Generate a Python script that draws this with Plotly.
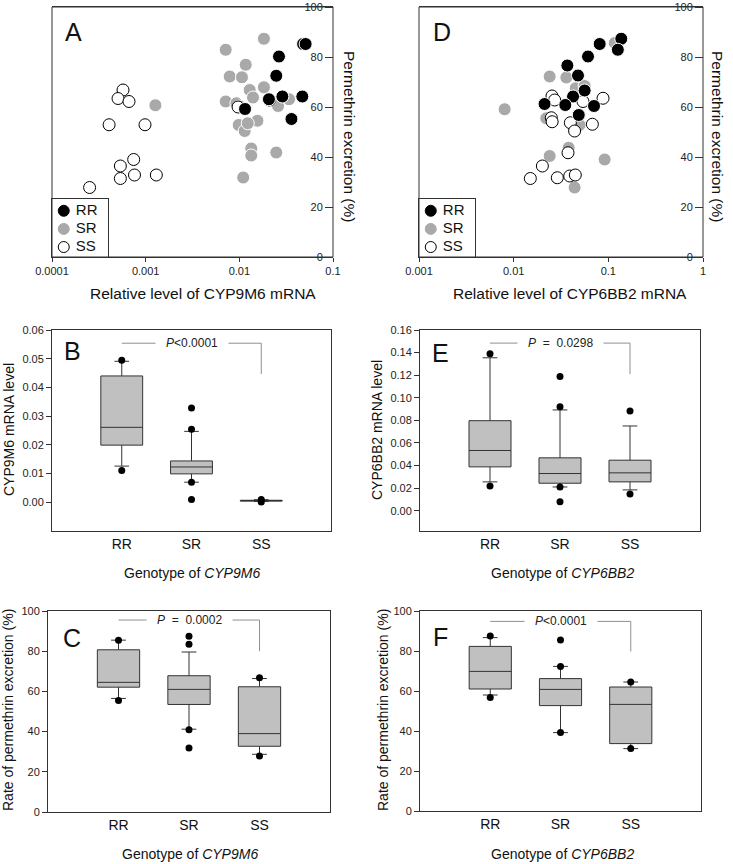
import plotly.graph_objects as go

FONT = "Liberation Sans, Arial, sans-serif"
W, H = 733, 864

genotypes = ["RR", "SR", "SS"]

# ---- Panel A: CYP9M6 mRNA vs permethrin excretion ----
a_rr_x = [0.048, 0.051, 0.0265, 0.0248, 0.0207, 0.0288, 0.047, 0.0115, 0.036]
a_rr_y = [85.2, 85.2, 80.2, 72.5, 63.1, 64.2, 64.2, 59.2, 55.2]
a_sr_x = [0.0183, 0.00715, 0.0117, 0.00789, 0.01067, 0.0129, 0.0183, 0.014, 0.00715, 0.0093,
          0.0101, 0.0259, 0.0339, 0.00984, 0.0156, 0.0114, 0.0123, 0.0134, 0.0134, 0.0248,
          0.011, 0.00127]
a_sr_y = [87.3, 82.9, 76.9, 72.2, 71.9, 66.8, 67.9, 63.8, 62.2, 61.5,
          60.2, 60.4, 63.1, 52.8, 54.5, 50.4, 53.5, 43.4, 40.6, 41.8,
          31.8, 60.7]
a_ss_x = [0.000573, 0.000507, 0.000664, 0.000407, 0.000984, 0.000745, 0.000537, 0.000537,
          0.00076, 0.0013, 0.000252, 0.0209, 0.0097]
a_ss_y = [66.8, 63.4, 62.2, 52.9, 52.9, 39.0, 36.4, 31.4, 32.8, 32.8, 27.8, 62.8, 60.0]

# ---- Panel D: CYP6BB2 mRNA vs permethrin excretion ----
d_rr_x = [0.137, 0.126, 0.081, 0.061, 0.0369, 0.0478, 0.0562, 0.0424, 0.0212, 0.0351, 0.0706, 0.0487]
d_rr_y = [87.3, 82.9, 85.2, 80.2, 76.6, 72.6, 66.6, 64.2, 61.2, 60.8, 60.4, 56.8]
d_sr_x = [0.00803, 0.024, 0.036, 0.117, 0.0452, 0.0562, 0.0221, 0.0497, 0.024, 0.0381, 0.0914, 0.044]
d_sr_y = [59.1, 72.2, 71.8, 85.6, 67.5, 68.4, 55.5, 52.8, 40.4, 43.7, 39.0, 27.8]
d_ss_x = [0.0254, 0.0271, 0.025, 0.0255, 0.054, 0.0879, 0.0397, 0.044, 0.0678, 0.0375,
          0.0201, 0.015, 0.0289, 0.0391, 0.0448]
d_ss_y = [64.4, 62.8, 55.7, 54.1, 62.2, 63.5, 53.7, 50.4, 53.1, 41.7,
          36.4, 31.4, 31.7, 32.4, 32.8]

# ---- Panel B: CYP9M6 mRNA level by genotype ----
b_q1 = [0.0199, 0.0099, 0.0004]
b_med = [0.0261, 0.0123, 0.0006]
b_q3 = [0.0440, 0.0144, 0.0007]
b_lo = [0.0126, 0.0070, 0.0003]
b_hi = [0.0491, 0.0247, 0.0009]
b_out_g = ["RR", "RR", "SR", "SR", "SR", "SR", "SS", "SS"]
b_out_v = [0.0495, 0.0111, 0.0328, 0.0254, 0.0070, 0.0010, 0.0010, 0.0001]

# ---- Panel E: CYP6BB2 mRNA level by genotype ----
e_q1 = [0.0388, 0.0243, 0.0255]
e_med = [0.0533, 0.0329, 0.0335]
e_q3 = [0.0797, 0.0468, 0.0447]
e_lo = [0.0255, 0.0210, 0.0184]
e_hi = [0.1354, 0.0892, 0.0750]
e_out_g = ["RR", "RR", "SR", "SR", "SR", "SR", "SS", "SS"]
e_out_v = [0.139, 0.0219, 0.1188, 0.0921, 0.0210, 0.0080, 0.0883, 0.0148]

# ---- Panel C: excretion by CYP9M6 genotype ----
c_q1 = [62.1, 53.5, 32.7]
c_med = [64.5, 61.0, 39.0]
c_q3 = [80.7, 67.8, 62.3]
c_lo = [56.5, 41.2, 28.7]
c_hi = [85.5, 79.6, 66.4]
c_out_g = ["RR", "RR", "SR", "SR", "SR", "SR", "SS", "SS"]
c_out_v = [85.5, 55.5, 87.5, 83.4, 40.9, 31.9, 66.8, 27.9]

# ---- Panel F: excretion by CYP6BB2 genotype ----
f_q1 = [61.0, 52.7, 33.7]
f_med = [69.8, 60.8, 53.3]
f_q3 = [82.3, 66.2, 62.0]
f_lo = [58.0, 39.2, 31.2]
f_hi = [86.7, 72.3, 64.5]
f_out_g = ["RR", "RR", "SR", "SR", "SR", "SS", "SS"]
f_out_v = [87.5, 56.8, 85.5, 72.3, 39.2, 64.5, 31.2]

# significance brackets: (top y, drop y, label)
b_sig = [0.0554, 0.0447, "<i>P</i>&lt;0.0001"]
e_sig = [0.1484, 0.1209, "<i>P</i>  =  0.0298"]
c_sig = [95.5, 80.0, "<i>P</i>  =  0.0002"]
f_sig = [94.8, 79.8, "<i>P</i>&lt;0.0001"]

fig = go.Figure()

def px2x(p):
    return p / W

def py2y(p):
    return 1 - p / H

sty = {
    "RR": dict(color="black", line=dict(color="white", width=1)),
    "SR": dict(color="#a9a9a9", line=dict(color="white", width=1)),
    "SS": dict(color="white", line=dict(color="black", width=1)),
}

# scatter panels
for (xs, ys, ax) in [
    ({"SR": a_sr_x, "SS": a_ss_x, "RR": a_rr_x}, {"SR": a_sr_y, "SS": a_ss_y, "RR": a_rr_y}, ("x", "y")),
    ({"SR": d_sr_x, "SS": d_ss_x, "RR": d_rr_x}, {"SR": d_sr_y, "SS": d_ss_y, "RR": d_rr_y}, ("x2", "y2")),
]:
    for g in ["SR", "SS", "RR"]:
        fig.add_trace(go.Scatter(
            x=xs[g], y=ys[g], mode="markers", name=g,
            marker=dict(size=13 if g != "SS" else 12, **sty[g]),
            xaxis=ax[0], yaxis=ax[1], showlegend=False,
        ))

# legend boxes drawn as small framed axes (one row per genotype)
for ax in [("x7", "y7"), ("x8", "y8")]:
    fig.add_trace(go.Scatter(
        x=[0, 0, 0], y=genotypes, mode="markers+text", text=genotypes,
        texttemplate=" %{text}",
        textposition="middle right", textfont=dict(size=15, family=FONT, color="#111"),
        marker=dict(size=11, color=[sty[g]["color"] for g in genotypes],
                    line=dict(color=["black", "#a9a9a9", "black"], width=1)),
        xaxis=ax[0], yaxis=ax[1], showlegend=False, cliponaxis=False,
    ))

def add_box(q1, med, q3, lo, hi, og, ov, sig, ax):
    fig.add_trace(go.Box(
        x=genotypes, q1=q1, median=med, q3=q3, lowerfence=lo, upperfence=hi,
        boxpoints=False, width=0.6, whiskerwidth=0.35,
        fillcolor="#c0c0c0", line=dict(color="#333333", width=1),
        xaxis=ax[0], yaxis=ax[1], showlegend=False,
    ))
    fig.add_trace(go.Scatter(
        x=og, y=ov, mode="markers", marker=dict(color="black", size=7),
        xaxis=ax[0], yaxis=ax[1], showlegend=False,
    ))
    fig.add_trace(go.Scatter(
        x=[genotypes[0], genotypes[2], genotypes[2]], y=[sig[0], sig[0], sig[1]],
        mode="lines", line=dict(color="#909090", width=1),
        xaxis=ax[0], yaxis=ax[1], showlegend=False,
    ))
    fig.add_annotation(
        x=1, y=sig[0], xref=ax[0], yref=ax[1], text="&nbsp;&nbsp;&nbsp;" + sig[2] + "&nbsp;&nbsp;&nbsp;",
        showarrow=False, bgcolor="white", font=dict(size=12, color="#222"), borderpad=0,
    )

add_box(b_q1, b_med, b_q3, b_lo, b_hi, b_out_g, b_out_v, b_sig, ("x3", "y3"))
add_box(e_q1, e_med, e_q3, e_lo, e_hi, e_out_g, e_out_v, e_sig, ("x4", "y4"))
add_box(c_q1, c_med, c_q3, c_lo, c_hi, c_out_g, c_out_v, c_sig, ("x5", "y5"))
add_box(f_q1, f_med, f_q3, f_lo, f_hi, f_out_g, f_out_v, f_sig, ("x6", "y6"))

tickfont = dict(size=11, color="#222", family=FONT)
base = dict(showgrid=False, zeroline=False, automargin=False, tickfont=tickfont,
            linecolor="#333", linewidth=1, tickcolor="#333")
framed = dict(showline=True, mirror=True, **base)

layout = dict(
    template="none",
    width=W, height=H, margin=dict(l=0, r=0, t=0, b=0, pad=0, autoexpand=False),
    paper_bgcolor="white", plot_bgcolor="white",
    font=dict(family=FONT, color="#111"),
    showlegend=False,
)

# A
layout["xaxis"] = dict(domain=[px2x(52), px2x(333)], type="log", range=[-4, -1],
                       tickvals=[0.0001, 0.001, 0.01, 0.1], ticktext=["0.0001", "0.001", "0.01", "0.1"],
                       ticks="outside", ticklen=4, anchor="y", **framed)
layout["yaxis"] = dict(domain=[py2y(257), py2y(7)], range=[0, 100], side="left",
                       anchor="free", position=px2x(333),
                       tickvals=[0, 20, 40, 60, 80, 100], ticks="outside", ticklen=8,
                       showline=False, **base)
# D
layout["xaxis2"] = dict(domain=[px2x(419), px2x(703)], type="log", range=[-3, 0],
                        tickvals=[0.001, 0.01, 0.1, 1], ticktext=["0.001", "0.01", "0.1", "1"],
                        ticks="outside", ticklen=4, anchor="y2", **framed)
layout["yaxis2"] = dict(domain=[py2y(257), py2y(7)], range=[0, 100], side="left",
                        anchor="free", position=px2x(703),
                        tickvals=[0, 20, 40, 60, 80, 100], ticks="outside", ticklen=8,
                        showline=False, **base)

# legend axes
leg_x = dict(range=[-0.21, 0.79], showticklabels=False, ticks="", showline=True, mirror=True,
             showgrid=False, zeroline=False, automargin=False, linecolor="#333", linewidth=1)
leg_y = dict(type="category", categoryorder="array", categoryarray=genotypes, range=[2.55, -0.65],
             showticklabels=False, ticks="", showline=True, mirror=True,
             showgrid=False, zeroline=False, automargin=False, linecolor="#333", linewidth=1)
layout["xaxis7"] = dict(domain=[px2x(52), px2x(108)], anchor="y7", **leg_x)
layout["yaxis7"] = dict(domain=[py2y(257), py2y(199)], anchor="x7", **leg_y)
layout["xaxis8"] = dict(domain=[px2x(419), px2x(475)], anchor="y8", **leg_x)
layout["yaxis8"] = dict(domain=[py2y(257), py2y(199)], anchor="x8", **leg_y)

box_x = dict(type="category", categoryorder="array", categoryarray=genotypes, range=[-1, 3],
             ticks="", showline=True, mirror=True,
             **{k: v for k, v in base.items() if k != "tickfont"},
             tickfont=dict(size=14, color="#111", family=FONT))
# B
layout["xaxis3"] = dict(domain=[px2x(52), px2x(331)], anchor="y3", **box_x)
layout["yaxis3"] = dict(domain=[py2y(531), py2y(330)], range=[-0.01, 0.06], anchor="x3",
                        tickvals=[0, 0.01, 0.02, 0.03, 0.04, 0.05, 0.06], tickformat=".2f",
                        ticks="outside", ticklen=5, **framed)
# E
layout["xaxis4"] = dict(domain=[px2x(420), px2x(700)], anchor="y4", **box_x)
layout["yaxis4"] = dict(domain=[py2y(531), py2y(330)], range=[-0.018, 0.16], anchor="x4",
                        tickvals=[0, 0.02, 0.04, 0.06, 0.08, 0.10, 0.12, 0.14, 0.16], tickformat=".2f",
                        ticks="outside", ticklen=5, **framed)
# C
layout["xaxis5"] = dict(domain=[px2x(48), px2x(330)], anchor="y5", **box_x)
layout["yaxis5"] = dict(domain=[py2y(812), py2y(611)], range=[0, 100], anchor="x5",
                        tickvals=[0, 20, 40, 60, 80, 100], ticks="outside", ticklen=5, **framed)
# F
layout["xaxis6"] = dict(domain=[px2x(420), px2x(701)], anchor="y6", **box_x)
layout["yaxis6"] = dict(domain=[py2y(811), py2y(611)], range=[0, 100], anchor="x6",
                        tickvals=[0, 20, 40, 60, 80, 100], ticks="outside", ticklen=5, **framed)

# frames for scatter panels (left/right borders)
layout["shapes"] = [
    dict(type="rect", xref="x domain", yref="y domain", x0=0, x1=1, y0=0, y1=1,
         line=dict(color="#333", width=1), layer="above"),
    dict(type="rect", xref="x2 domain", yref="y2 domain", x0=0, x1=1, y0=0, y1=1,
         line=dict(color="#333", width=1), layer="above"),
]

fig.update_layout(**layout)

def ann(text, x, y, size, angle=0):
    fig.add_annotation(text=text, x=px2x(x), y=py2y(y), xref="paper", yref="paper",
                       showarrow=False, textangle=angle, font=dict(size=size, family=FONT, color="#111"),
                       xanchor="center", yanchor="middle")

# panel letters
for t, x, y in [("A", 73, 32), ("D", 442, 32), ("B", 72, 351), ("E", 441, 353), ("C", 72, 638), ("F", 440, 637)]:
    ann(t, x, y, 25)

# axis titles
ann("Relative level of CYP9M6 mRNA", 203, 293, 15.5)
ann("Relative level of CYP6BB2 mRNA", 570, 293, 15.5)
ann("Permethrin excretion (%)", 350, 136, 15.5, 90)
ann("Permethrin excretion (%)", 718, 136, 15.5, 90)
ann("CYP9M6 mRNA level", 9, 430, 14, -90)
ann("CYP6BB2 mRNA level", 377, 430, 14, -90)
ann("Rate of permethrin excretion (%)", 8, 710, 14, -90)
ann("Rate of permethrin excretion (%)", 383, 710, 14, -90)
ann("Genotype of <i>CYP9M6</i>", 192, 573, 14)
ann("Genotype of <i>CYP6BB2</i>", 562, 573, 14)
ann("Genotype of <i>CYP9M6</i>", 190, 854, 14)
ann("Genotype of <i>CYP6BB2</i>", 562, 854, 14)

fig.write_html("out.html", config={"displayModeBar": False},
               post_script="document.body.style.margin='0px';")
